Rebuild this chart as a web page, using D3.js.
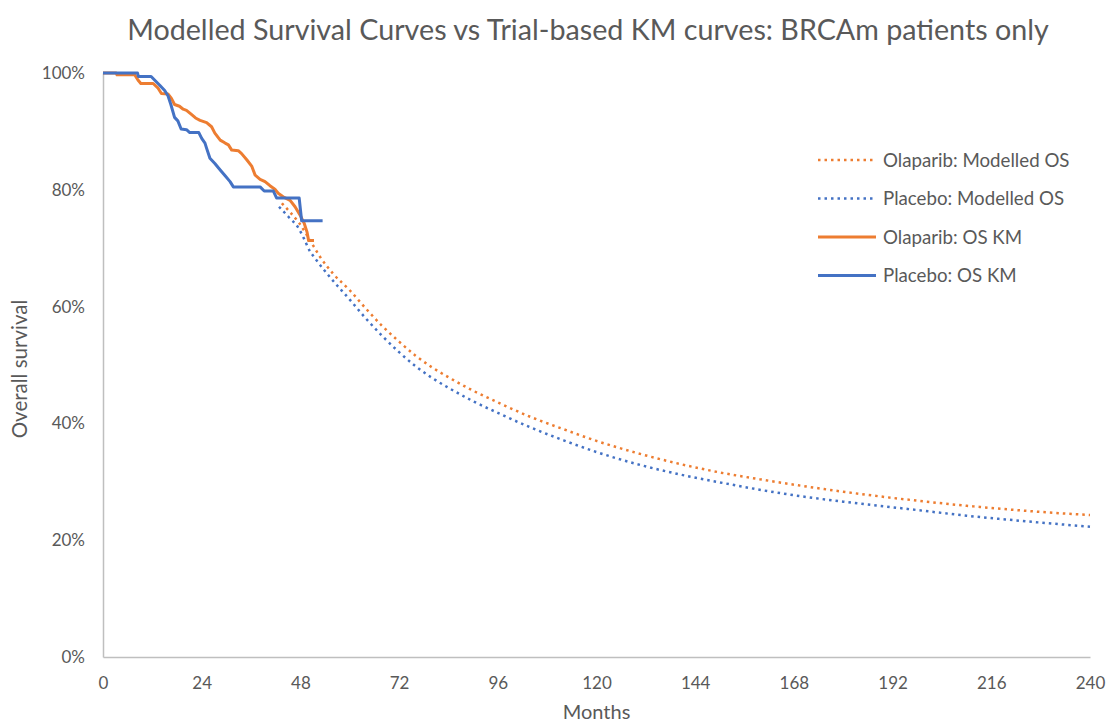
<!DOCTYPE html>
<html>
<head>
<meta charset="utf-8">
<title>Modelled Survival vs KM</title>
<style>
body { margin: 0; background: #fff; }
svg { display: block; }
text { font-family: Lato, "Open Sans", sans-serif; fill: #595959; }
.axis-line { stroke: #BFBFBF; stroke-width: 1.5px; }
.km { fill: none; stroke-width: 3px; stroke-linejoin: round; }
.model { fill: none; stroke-width: 2.5px; stroke-dasharray: 2.5 4; }
</style>
</head>
<body>
<svg id="chart" width="1110" height="724"></svg>
<script src="https://cdnjs.cloudflare.com/ajax/libs/d3/7.8.5/d3.min.js"></script>
<script>
// [month, overall survival %]
const olaparibModelled = [
  [43.5, 77.7], [45.7, 76.0], [47.7, 74.3], [50.3, 71.4], [52.8, 68.5], [56, 65.6],
  [60, 62.8], [64, 59.6], [68, 56.6], [72, 54.0], [76, 51.6], [80, 49.6], [84, 47.9],
  [90, 45.6], [96, 43.6], [104, 41.1], [112, 39.0], [120, 37.0], [130, 34.9],
  [140, 33.1], [150, 31.6], [160, 30.4], [170, 29.3], [180, 28.3], [195, 27.0],
  [210, 25.9], [225, 25.0], [240, 24.3]
];
const placeboModelled = [
  [42.8, 77.1], [45.2, 75.3], [47.4, 73.6], [48.9, 71.6], [50.3, 69.5], [51.1, 68.7],
  [55, 65.2], [60, 61.2], [64, 57.9], [68, 54.9], [72, 52.2], [76, 49.8], [80, 47.8],
  [84, 46.1], [90, 43.8], [96, 41.8], [104, 39.3], [112, 37.1], [120, 35.1], [130, 33.0],
  [140, 31.3], [150, 29.9], [160, 28.6], [170, 27.5], [180, 26.6], [195, 25.4],
  [210, 24.2], [225, 23.2], [240, 22.3]
];
const olaparibKM = [
  [0, 100], [3.2, 100], [3.4, 99.7], [7.7, 99.7], [8.5, 98.8], [9.2, 98.2], [12.2, 98.2],
  [13.4, 97.4], [14.2, 96.5], [15.8, 96.4], [16.6, 95.7], [17.4, 94.6], [18.6, 94.3],
  [19.5, 93.8], [20.3, 93.6], [21.5, 92.9], [22.5, 92.3], [23.6, 91.9], [25.2, 91.5],
  [26.4, 90.8], [27.2, 89.7], [28.5, 88.5], [29.7, 88.0], [30.5, 87.7], [31.3, 86.8],
  [32.9, 86.7], [33.7, 86.2], [35.0, 85.1], [36.2, 84.0], [37.0, 82.5], [38.2, 81.8],
  [39.4, 81.4], [40.6, 80.7], [41.8, 80.1], [42.6, 79.4], [43.8, 78.8], [45.5, 78.2],
  [46.7, 77.1], [47.9, 75.7], [48.9, 74.3], [49.6, 72.8], [50.0, 71.3], [51.3, 71.3]
];
const placeboKM = [
  [0, 100], [8.4, 100], [8.6, 99.4], [11.7, 99.4], [13.8, 97.9], [15, 97.0], [15.8, 96.1],
  [16.5, 94.6], [17.4, 92.4], [18.2, 91.8], [19.0, 90.4], [20.3, 90.3], [21.1, 89.8],
  [23.3, 89.8], [24.0, 88.8], [24.8, 88.0], [25.2, 87.1], [26.0, 85.4], [27.2, 84.5],
  [28.5, 83.4], [29.7, 82.4], [30.9, 81.4], [31.7, 80.5], [38.2, 80.5], [39.2, 79.8],
  [41.4, 79.8], [42.2, 78.6], [47.7, 78.6], [48.3, 74.7], [53.4, 74.7]
];
const xTicks = [0, 24, 48, 72, 96, 120, 144, 168, 192, 216, 240];
const yTicks = [0, 20, 40, 60, 80, 100];

const series = [
  { name: "Olaparib: Modelled OS", data: olaparibModelled, color: "#ED7D31", cls: "model" },
  { name: "Placebo: Modelled OS", data: placeboModelled, color: "#4472C4", cls: "model" },
  { name: "Olaparib: OS KM", data: olaparibKM, color: "#ED7D31", cls: "km" },
  { name: "Placebo: OS KM", data: placeboKM, color: "#4472C4", cls: "km" }
];

const W = 1110, H = 724;
const margin = { top: 73, right: 20, bottom: 67, left: 103 };
const svg = d3.select("#chart");

const x = d3.scaleLinear().domain([0, 240]).range([margin.left, W - margin.right]);
const y = d3.scaleLinear().domain([0, 100]).range([H - margin.bottom, margin.top]);

// title
svg.append("text")
  .attr("x", 588).attr("y", 40)
  .attr("text-anchor", "middle")
  .style("font-size", "28.7px")
  .text("Modelled Survival Curves vs Trial-based KM curves: BRCAm patients only");

// axes
const xAxis = svg.append("g")
  .attr("transform", `translate(0,${H - margin.bottom})`)
  .call(d3.axisBottom(x).tickValues(xTicks).tickSize(0).tickPadding(20));
xAxis.select(".domain").attr("class", "axis-line domain");

const yAxis = svg.append("g")
  .attr("transform", `translate(${margin.left},0)`)
  .call(d3.axisLeft(y).tickValues(yTicks).tickSize(0).tickPadding(18).tickFormat(d => d + "%"));
yAxis.select(".domain").attr("class", "axis-line domain");

svg.selectAll(".tick text")
  .style("font-size", "17px")
  .style("font-family", "Lato, 'Open Sans', sans-serif")
  .attr("fill", "#595959");

svg.append("text")
  .attr("x", (margin.left + W - margin.right) / 2).attr("y", 719)
  .attr("text-anchor", "middle")
  .style("font-size", "20px")
  .text("Months");

svg.append("text")
  .attr("transform", "translate(27,369) rotate(-90)")
  .attr("text-anchor", "middle")
  .style("font-size", "20.5px")
  .text("Overall survival");

// lines
const lineModel = d3.line().x(d => x(d[0])).y(d => y(d[1])).curve(d3.curveMonotoneX);
const lineKM = d3.line().x(d => x(d[0])).y(d => y(d[1]));

svg.append("g").selectAll("path")
  .data(series)
  .join("path")
  .attr("class", d => d.cls)
  .attr("stroke", d => d.color)
  .attr("d", d => d.cls === "model" ? lineModel(d.data) : lineKM(d.data));

// legend
const legend = svg.append("g").attr("transform", "translate(818,160)");
const item = legend.selectAll("g")
  .data(series)
  .join("g")
  .attr("transform", (d, i) => `translate(0,${i * 38.5})`);
item.append("line")
  .attr("x1", 0).attr("x2", 58)
  .attr("class", d => d.cls)
  .attr("stroke", d => d.color);
item.append("text")
  .attr("x", 65).attr("dy", "0.35em")
  .style("font-size", "18.7px")
  .text(d => d.name);
</script>
</body>
</html>
